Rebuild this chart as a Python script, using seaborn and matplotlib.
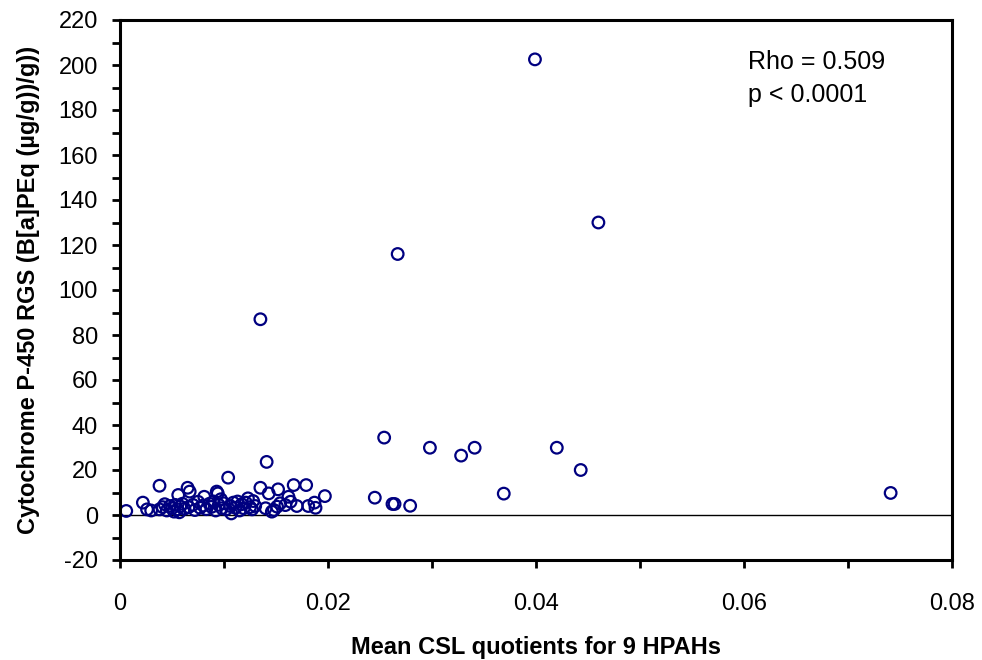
import matplotlib
matplotlib.use("Agg")
import matplotlib.pyplot as plt
import seaborn as sns
import pandas as pd
from matplotlib.ticker import MultipleLocator, FuncFormatter

sns.set_theme(style="white")
plt.rcParams['font.family'] = ['Liberation Sans', 'DejaVu Sans']
plt.rcParams['axes.unicode_minus'] = False
plt.rcParams['text.color'] = 'black'
plt.rcParams['axes.labelcolor'] = 'black'
plt.rcParams['xtick.color'] = 'black'
plt.rcParams['ytick.color'] = 'black'

csl_quotient = [
    0.0006, 0.0022, 0.0026, 0.0030, 0.0038, 0.0038, 0.0041, 0.0043, 0.0045, 0.0048,
    0.0050, 0.0052, 0.0053, 0.0055, 0.0056, 0.0057, 0.0058, 0.0060, 0.0062, 0.0065,
    0.0066, 0.0067, 0.0070, 0.0072, 0.0075, 0.0077, 0.0080, 0.0081, 0.0083, 0.0086,
    0.0088, 0.0090, 0.0092, 0.0093, 0.0094, 0.0095, 0.0097, 0.0098, 0.0100, 0.0102,
    0.0104, 0.0106, 0.0107, 0.0109, 0.0111, 0.0113, 0.0115, 0.0117, 0.0119, 0.0121,
    0.0123, 0.0125, 0.0127, 0.0128, 0.0130, 0.0135, 0.0135, 0.0140, 0.0141, 0.0143,
    0.0146, 0.0148, 0.0151, 0.0152, 0.0154, 0.0159, 0.0162, 0.0164, 0.0167, 0.0170,
    0.0179, 0.0181, 0.0187, 0.0188, 0.0197, 0.0245, 0.0254, 0.0262, 0.0264, 0.0267,
    0.0279, 0.0298, 0.0328, 0.0341, 0.0369, 0.0399, 0.0420, 0.0443, 0.0460, 0.0741,
]
rgs_value = [
    1.8, 5.5, 2.5, 2.0, 13.0, 2.5, 3.5, 4.8, 2.0, 4.0,
    3.0, 1.5, 4.5, 2.5, 8.9, 1.2, 3.8, 5.0, 2.8, 12.1,
    3.5, 10.4, 4.5, 2.2, 5.9, 3.2, 4.2, 8.1, 2.6, 5.0,
    3.6, 6.0, 2.0, 10.4, 9.6, 4.5, 7.0, 3.0, 5.2, 2.5,
    16.6, 4.0, 0.7, 5.5, 3.2, 6.0, 2.0, 4.8, 3.0, 5.5,
    7.4, 3.5, 2.5, 6.2, 4.0, 12.1, 87.0, 3.0, 23.6, 9.6,
    1.5, 2.2, 3.7, 11.4, 5.2, 4.4, 8.1, 5.9, 13.3, 4.0,
    13.3, 4.0, 5.5, 3.2, 8.4, 7.7, 34.4, 4.9, 4.9, 116.0,
    4.1, 29.9, 26.4, 29.9, 9.5, 202.5, 29.9, 20.0, 130.0, 9.8,
]

x_label = "Mean CSL quotients for 9 HPAHs"
y_label = "Cytochrome P-450 RGS (B[a]PEq (\u00b5g/g))/g))"
annotation = ["Rho = 0.509", "p < 0.0001"]

df = pd.DataFrame({"csl": csl_quotient, "rgs": rgs_value})

fig = plt.figure(figsize=(9.82, 6.6), dpi=100)
ax = fig.add_axes([120/982, 1 - 560/660, (952-120)/982, (560-20)/660])

sns.scatterplot(data=df, x="csl", y="rgs", ax=ax, s=70, facecolor="none",
                edgecolor="#000080", linewidth=1.6, marker="o", legend=False)

ax.axhline(0, color="black", linewidth=1.0, zorder=0)

ax.set_xlim(0, 0.08)
ax.set_ylim(-20, 220)
ax.xaxis.set_major_locator(MultipleLocator(0.02))
ax.xaxis.set_minor_locator(MultipleLocator(0.01))
ax.yaxis.set_major_locator(MultipleLocator(20))
ax.yaxis.set_minor_locator(MultipleLocator(10))
ax.xaxis.set_major_formatter(FuncFormatter(
    lambda v, p: "0" if abs(v) < 1e-12 else f"{v:.2f}"))
ax.yaxis.set_major_formatter(FuncFormatter(lambda v, p: f"{v:.0f}"))

for side in ["left", "bottom", "top", "right"]:
    ax.spines[side].set_visible(True)
    ax.spines[side].set_color("black")
    ax.spines[side].set_linewidth(2.2)

ax.tick_params(axis="both", which="both", direction="out", length=6, width=2,
               color="black", bottom=True, left=True, top=False, right=False)
ax.tick_params(axis="both", which="major", labelsize=17, labelcolor="black")
ax.tick_params(axis="x", which="major", pad=18)
ax.tick_params(axis="y", which="major", pad=10)
ax.grid(False)

ax.set_xlabel(x_label, fontsize=17, fontweight="bold", labelpad=15, color="black")
ax.set_ylabel(y_label, fontsize=17, fontweight="bold", labelpad=13, color="black")

fig.text(748/982, 1 - 62/660, annotation[0], fontsize=18, va="center", ha="left", color="black")
fig.text(748/982, 1 - 95/660, annotation[1], fontsize=18, va="center", ha="left", color="black")

fig.savefig("out.png", dpi=100, facecolor="white")
